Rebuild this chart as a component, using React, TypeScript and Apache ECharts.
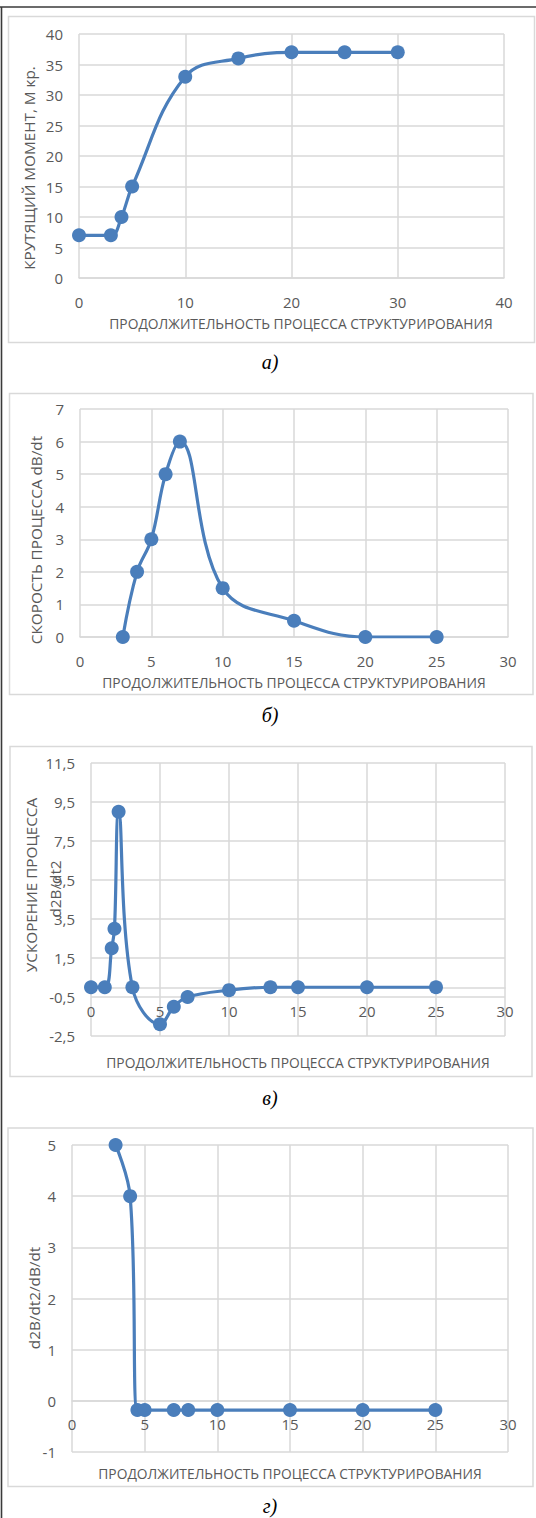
import React, { useEffect, useRef } from "react";
import * as echarts from "echarts";

// ---- data ----
const xTitle = "ПРОДОЛЖИТЕЛЬНОСТЬ ПРОЦЕССА СТРУКТУРИРОВАНИЯ";

const aX = [0, 3, 4, 5, 10, 15, 20, 25, 30];
const aY = [7, 7, 10, 15, 33, 36, 37, 37, 37];

const bX = [3, 4, 5, 6, 7, 10, 15, 20, 25];
const bY = [0, 2, 3, 5, 6, 1.5, 0.5, 0, 0];

const cX = [0, 1, 1.5, 1.7, 2, 3, 5, 6, 7, 10, 13, 15, 20, 25];
const cY = [0, 0, 2, 3, 9, 0, -1.9, -1, -0.5, -0.15, 0, 0, 0, 0];

const dX = [3, 4, 4.5, 5, 7, 8, 10, 15, 20, 25];
const dY = [5, 4, -0.18, -0.18, -0.18, -0.18, -0.18, -0.18, -0.18, -0.18];

const yTitlesA = ["КРУТЯЩИЙ МОМЕНТ, М кр."];
const yTitlesB = ["СКОРОСТЬ ПРОЦЕССА dB/dt"];
const yTitlesC = ["УСКОРЕНИЕ ПРОЦЕССА", "d2B/dt2"];
const yTitlesD = ["d2B/dt2/dB/dt"];
const captions = ["а)", "б)", "в)", "г)"];

const xRanges = [
  [0, 40, 10],
  [0, 30, 5],
  [0, 30, 5],
  [0, 30, 5],
];
const yRanges = [
  [0, 40, 5],
  [0, 7, 1],
  [-2.5, 11.5, 2],
  [-1, 5, 1],
];

// ---- style / layout ----
const BLUE = "#4a7ebb";
const GRID = "#d9d9d9";
const TXT = "#595959";
const FONT = "'Open Sans', 'Noto Sans', sans-serif";

const grids = [
  { left: 79, top: 34, width: 425, height: 244 },
  { left: 80, top: 409, width: 428, height: 228 },
  { left: 91, top: 763, width: 414, height: 273 },
  { left: 72, top: 1145, width: 436, height: 307 },
];
const boxes = [
  { x: 8.5, y: 16.5, w: 526, h: 326 },
  { x: 9.5, y: 393.5, w: 523.5, h: 301 },
  { x: 10, y: 746.5, w: 522, h: 330 },
  { x: 8, y: 1128, w: 525, h: 358.5 },
];
const captionY = [362, 715, 1098, 1506];
const xTitlePos = [
  [301, 323],
  [294, 682],
  [298, 1062],
  [290, 1473],
];

function zip(xs: number[], ys: number[]) {
  return xs.map((x, i) => [x, ys[i]]);
}

const fmt = (v: number) => String(v).replace(".", ",");

export default function App() {
  const ref = useRef<HTMLDivElement>(null);
  useEffect(() => {
    if (!ref.current) return;
    const chart = echarts.init(ref.current, undefined, { renderer: "svg" });
    const datasets = [zip(aX, aY), zip(bX, bY), zip(cX, cY), zip(dX, dY)];

    const graphics: any[] = [];
    // outer dark frame
    graphics.push({
      type: "line",
      shape: { x1: 0, y1: 7, x2: 536, y2: 7 },
      style: { stroke: "#3a3a3a", lineWidth: 1.6 },
    });
    graphics.push({
      type: "line",
      shape: { x1: 1.5, y1: 7, x2: 1.5, y2: 1518 },
      style: { stroke: "#3a3a3a", lineWidth: 1.6 },
    });
    boxes.forEach((b) => {
      graphics.push({
        type: "rect",
        shape: { x: b.x, y: b.y, width: b.w, height: b.h },
        style: { fill: "none", stroke: GRID, lineWidth: 1.5 },
        z: -1,
      });
    });
    captions.forEach((c, i) => {
      graphics.push({
        type: "text",
        x: 270,
        y: captionY[i],
        style: {
          text: c,
          fontFamily: "'Liberation Serif', 'DejaVu Serif', serif",
          fontStyle: "italic",
          fontSize: 20,
          fill: "#000",
          align: "center",
          verticalAlign: "middle",
        },
      });
    });
    xTitlePos.forEach((p) => {
      graphics.push({
        type: "text",
        x: p[0],
        y: p[1],
        style: {
          text: xTitle,
          fontFamily: FONT,
          fontSize: 13.8,
          fill: TXT,
          align: "center",
          verticalAlign: "middle",
        },
      });
    });
    const yTitleDefs: [string, number, number][] = [
      [yTitlesA[0], 29, 168],
      [yTitlesB[0], 36, 540],
      [yTitlesC[0], 31, 885],
      [yTitlesC[1], 55, 889],
      [yTitlesD[0], 34, 1298],
    ];
    yTitleDefs.forEach(([t, x, y]) => {
      graphics.push({
        type: "text",
        x,
        y,
        rotation: Math.PI / 2,
        style: {
          text: t,
          fontFamily: FONT,
          fontSize: 15.3,
          fill: TXT,
          align: "center",
          verticalAlign: "middle",
        },
      });
    });

    const option: any = {
      animation: false,
      backgroundColor: "#ffffff",
      grid: grids.map((g) => ({ ...g, outerBoundsMode: "none", containLabel: false })),
      xAxis: xRanges.map((r, i) => {
        const yr = yRanges[i];
        // axis crosses the value axis at zero (as in the original charts)
        const zeroOffset = yr[0] < 0 ? -grids[i].height * (0 - yr[0]) / (yr[1] - yr[0]) : 0;
        return {
          type: "value",
          gridIndex: i,
          position: "bottom",
          offset: zeroOffset,
          min: r[0],
          max: r[1],
          interval: r[2],
          axisLine: { show: true, onZero: false, lineStyle: { color: GRID, width: 1.5 } },
          axisTick: { show: false },
          splitLine: { show: true, lineStyle: { color: GRID, width: 1.5 } },
          axisLabel: { color: TXT, fontSize: 15, fontFamily: FONT, margin: 16 },
        };
      }),
      yAxis: yRanges.map((r, i) => ({
        type: "value",
        gridIndex: i,
        min: r[0],
        max: r[1],
        interval: r[2],
        axisLine: { show: false },
        axisTick: { show: false },
        splitLine: { show: true, lineStyle: { color: GRID, width: 1.5 } },
        axisLabel: {
          color: TXT,
          fontSize: 15,
          fontFamily: FONT,
          margin: 16,
          formatter: (v: number) => fmt(v),
        },
      })),
      series: datasets.map((d, i) => ({
        type: "line",
        xAxisIndex: i,
        yAxisIndex: i,
        data: d,
        smooth: 0.4,
        symbol: "circle",
        symbolSize: 14,
        showSymbol: true,
        lineStyle: { color: BLUE, width: 3.2 },
        itemStyle: { color: BLUE },
        z: 3,
      })),
      graphic: graphics,
    };
    chart.setOption(option);
    return () => chart.dispose();
  }, []);
  return (
    <div
      ref={ref}
      style={{ position: "absolute", left: 0, top: 0, width: 536, height: 1518 }}
    />
  );
}
